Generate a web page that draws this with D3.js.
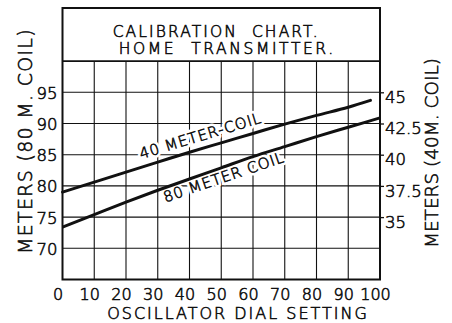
<!DOCTYPE html>
<html>
<head>
<meta charset="utf-8">
<script src="https://cdn.jsdelivr.net/npm/d3@7"></script>
<style>
  html, body { margin: 0; padding: 0; background: #fff; }
  svg { display: block; }
  text { font-family: "DejaVu Sans", sans-serif; font-weight: 300; fill: #111; stroke: #111; stroke-width: 0.6px; }
</style>
</head>
<body>
<svg id="chart" width="452" height="323"></svg>
<script>
const dialTicks = [0, 10, 20, 30, 40, 50, 60, 70, 80, 90, 100];
const dial80 = [0, 10, 20, 30, 40, 50, 60, 70, 80, 90, 100];
const meters80 = [73.4, 75.4, 77.4, 79.3, 81.1, 82.9, 84.7, 86.3, 87.9, 89.4, 90.9];
const dial40 = [0, 10, 20, 30, 40, 50, 60, 70, 80, 90, 97];
const meters40 = [37.0, 37.8, 38.6, 39.4, 40.2, 40.95, 41.7, 42.45, 43.15, 43.8, 44.35];
const leftTicks = [70, 75, 80, 85, 90, 95];
const rightTicks = [35, 37.5, 40, 42.5, 45];
const titleLines = ["CALIBRATION  CHART.", "HOME  TRANSMITTER."];

const svg = d3.select("#chart");

const x = d3.scaleLinear([0, 100], [62.5, 380]);
const yL = d3.scaleLinear([65, 100], [279.5, 61.1]);   // 80 m coil
const yR = d3.scaleLinear([30, 47.5], [279.5, 61.1]);  // 40 m coil

const ink = "#111";

// grid
const grid = svg.append("g").attr("stroke", ink).attr("stroke-width", 1.1);
grid.selectAll("line.h").data(leftTicks).join("line")
  .attr("x1", x(0)).attr("x2", x(100))
  .attr("y1", d => yL(d)).attr("y2", d => yL(d));
grid.selectAll("line.v").data(dialTicks.slice(1, -1)).join("line")
  .attr("x1", d => x(d)).attr("x2", d => x(d))
  .attr("y1", yL(100)).attr("y2", yL(65));

// title panel separator and outer frame
svg.append("line").attr("x1", x(0)).attr("x2", x(100))
  .attr("y1", yL(100)).attr("y2", yL(100))
  .attr("stroke", ink).attr("stroke-width", 1.8);
svg.append("rect").attr("x", x(0)).attr("y", 8)
  .attr("width", x(100) - x(0)).attr("height", yL(65) - 8)
  .attr("fill", "none").attr("stroke", ink).attr("stroke-width", 2);

// title
svg.append("g").selectAll("text").data(titleLines).join("text")
  .attr("x", (d, i) => (x(0) + x(100)) / 2 + (i ? 6 : -5))
  .attr("y", (d, i) => 36.5 + i * 17)
  .attr("text-anchor", "middle")
  .attr("font-size", 15.5)
  .attr("letter-spacing", (d, i) => i ? 2.6 : 2.1)
  .style("white-space", "pre")
  .text(d => d);

// left axis (80 m coil)
const axL = svg.append("g").attr("transform", `translate(${x(0)},0)`)
  .call(d3.axisLeft(yL).tickValues(leftTicks).tickSize(0).tickPadding(5));
axL.select(".domain").remove();
axL.selectAll("text").attr("font-size", 16.5).attr("dy", "0.36em")
  .style("font-family", "DejaVu Sans").style("font-weight", 300);

// right axis (40 m coil)
const axR = svg.append("g").attr("transform", `translate(${x(100)},0)`)
  .call(d3.axisRight(yR).tickValues(rightTicks).tickSize(4).tickPadding(1)
    .tickFormat(d => String(d)));
axR.select(".domain").remove();
axR.selectAll("line").attr("stroke", ink).attr("stroke-width", 1.3);
axR.selectAll("text").attr("font-size", 16.5).attr("dy", "0.62em")
  .style("font-family", "DejaVu Sans").style("font-weight", 300);

// bottom axis
const axB = svg.append("g").attr("transform", `translate(-5,${yL(65)})`)
  .call(d3.axisBottom(x).tickValues(dialTicks).tickSize(0).tickPadding(9));
axB.select(".domain").remove();
axB.selectAll("text").attr("font-size", 16).attr("dy", "0.71em")
  .style("font-family", "DejaVu Sans").style("font-weight", 300);

// axis titles
svg.append("text")
  .attr("transform", "translate(32,141) rotate(-90)")
  .attr("text-anchor", "middle").attr("font-size", 19).attr("letter-spacing", 1.3)
  .text("METERS (80 M. COIL)");
svg.append("text")
  .attr("transform", "translate(438,153) rotate(-90)")
  .attr("text-anchor", "middle").attr("font-size", 18.5)
  .text("METERS (40M. COIL)");
svg.append("text")
  .attr("x", 238).attr("y", 319)
  .attr("text-anchor", "middle").attr("font-size", 16).attr("letter-spacing", 2)
  .text("OSCILLATOR DIAL SETTING");

// curve labels: a white halo breaks the grid, then the lettering on top
function curveLabel(dials, vals, yScale, startDial, endDial, label, dy) {
  const interp = d => {
    const i = d3.bisectRight(dials, d) - 1;
    const j = Math.min(i + 1, dials.length - 1);
    const t = j === i ? 0 : (d - dials[i]) / (dials[j] - dials[i]);
    return vals[i] + t * (vals[j] - vals[i]);
  };
  const x0 = x(startDial), y0 = yScale(interp(startDial));
  const x1 = x(endDial), y1 = yScale(interp(endDial));
  const ang = Math.atan2(y1 - y0, x1 - x0) * 180 / Math.PI;
  const g = svg.append("g").attr("transform", `translate(${x0},${y0}) rotate(${ang})`);
  g.append("text").attr("dy", dy)
    .attr("font-size", 15).attr("letter-spacing", 0.9)
    .style("stroke", "#fff").style("fill", "#fff").style("stroke-width", "6px")
    .style("stroke-linejoin", "round")
    .text(label);
  g.append("text").attr("dy", dy)
    .attr("font-size", 15).attr("letter-spacing", 0.9)
    .text(label);
}
curveLabel(dial40, meters40, yR, 25.5, 68, "40 METER-COIL", -8);
curveLabel(dial80, meters80, yL, 31, 74, "80 METER COIL", 14);

// calibration curves
const line40 = d3.line().x((d, i) => x(dial40[i])).y(d => yR(d)).curve(d3.curveMonotoneX);
const line80 = d3.line().x((d, i) => x(dial80[i])).y(d => yL(d)).curve(d3.curveMonotoneX);
svg.append("path").attr("d", line40(meters40))
  .attr("fill", "none").attr("stroke", ink).attr("stroke-width", 3).attr("stroke-linecap", "round");
svg.append("path").attr("d", line80(meters80))
  .attr("fill", "none").attr("stroke", ink).attr("stroke-width", 3).attr("stroke-linecap", "butt");
</script>
</body>
</html>
